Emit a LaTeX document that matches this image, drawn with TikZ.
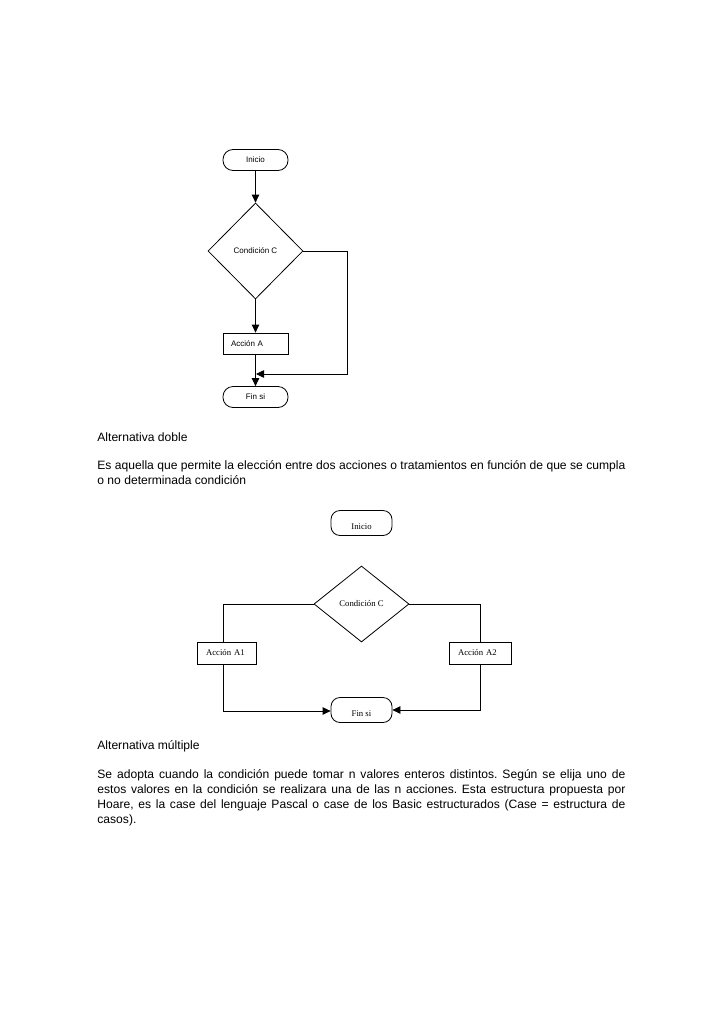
\documentclass[tikz,border=0pt]{standalone}
\usepackage{fontspec}
\setmainfont{Liberation Sans}
\newfontfamily\tnr{Liberation Serif}
\usetikzlibrary{arrows.meta, shapes.geometric}
\newcommand\cuerpo{\fontsize{12.1}{15.2}\selectfont\frenchspacing}
\newcommand\jline[1]{\makebox[528pt][s]{#1}}

\begin{document}
\begin{tikzpicture}[x=1pt, y=-1pt, line width=0.8pt, >={Triangle[length=8pt, width=7.5pt]},
 inicio1/.style = {draw, rectangle, rounded corners=10pt, minimum width=65pt, minimum height=21pt, inner sep=0pt, font=\fontsize{8}{9}\selectfont},
 inicio2/.style = {draw, rectangle, rounded corners=9pt, minimum width=61pt, minimum height=25pt, inner sep=0pt, text height=12pt, text depth=0pt, font=\tnr\fontsize{8.7}{10}\selectfont},
 decision/.style = {draw, diamond, inner sep=0pt},
 accion1/.style = {draw, rectangle, text width=49pt, inner xsep=8pt, minimum height=21pt, align=left, font=\fontsize{8}{9}\selectfont},
 accion2/.style = {draw, rectangle, inner xsep=9pt, minimum height=22pt, align=left, font=\tnr\fontsize{8.7}{10}\selectfont},
 texto/.style = {inner sep=0pt, font=\cuerpo, align=left}]
\useasboundingbox (0,0) rectangle (728,1031);

\node[inicio1] (ini1) at (255.5,160) {Inicio};
\node[decision, minimum width=95pt, minimum height=96pt, font=\fontsize{8}{9}\selectfont] (cond1) at (255.5,251) {Condición C};
\node[accion1] (acc1) at (255.5,343.5) {Acción A};
\node[inicio1] (fin1) at (255.5,397) {Fin si};
\coordinate (r1) at (347,374);
\coordinate (j1) at (256,374);
\draw [->](ini1) -- (cond1);
\draw [->](cond1) -- (acc1);
\draw [->](acc1) -- (fin1);
\draw [->](cond1.east) -| (r1) -- (j1);

\node[texto, anchor=base west] (tit1) at (97,441) {Alternativa doble};
\node[texto, anchor=north west] (par1) at (97,460) {\jline{Es aquella que permite la elección entre dos acciones o tratamientos en función de que se cumpla}\\o no determinada condición};

\node[inicio2] (ini2) at (361.5,523) {Inicio};
\node[decision, minimum width=95pt, minimum height=76pt, font=\tnr\fontsize{8.7}{10}\selectfont] (cond2) at (361.5,604) {Condición C};
\node[accion2, text width=41pt] (a1) at (226.5,653) {Acción A1};
\node[accion2, text width=44pt] (a2) at (480,653) {Acción A2};
\node[inicio2] (fin2) at (361.5,710) {Fin si};
\coordinate (l2) at (223,604);
\coordinate (b2) at (223,711);
\draw (cond2.west) -- (l2) -- (l2 |- a1.north);
\draw [->](a1.south -| l2) -- (b2) -- (b2 -| fin2.west);
\draw (cond2.east) -| (a2.north);
\draw [->](a2.south) |- (fin2.east);

\node[texto, anchor=base west] (tit2) at (97,749) {Alternativa múltiple};
\node[texto, anchor=north west] (par2) at (97,769) {\jline{Se adopta cuando la condición puede tomar n valores enteros distintos. Según se elija uno de}\\\jline{estos valores en la condición se realizara una de las n acciones. Esta estructura propuesta por}\\\jline{Hoare, es la case del lenguaje Pascal o case de los Basic estructurados (Case = estructura de}\\casos).};
\end{tikzpicture}
\end{document}
